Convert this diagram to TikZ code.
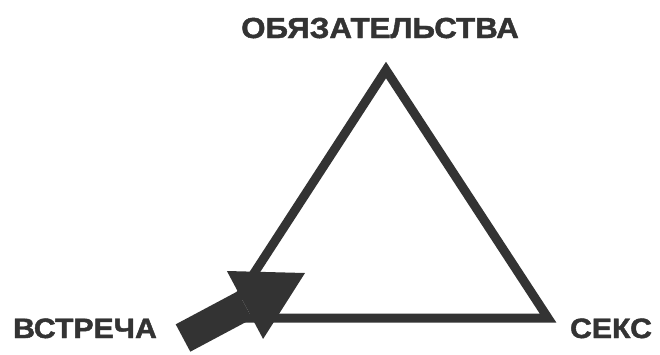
\documentclass[tikz,border=0pt]{standalone}
\usepackage{fontspec}
\setmainfont{Liberation Sans}[FakeStretch=1.08, BoldFeatures={FakeBold=1.6}]
\usetikzlibrary{arrows.meta}
\definecolor{ink}{gray}{0.2}
\tikzset{
	word/.style={font=\bfseries\fontsize{#1}{#1}\selectfont, text=ink, anchor=base, inner sep=0pt},
	word/.default=28bp,
	edge/.style={draw=ink, line width=9bp, line join=miter},
	% the big arrow into the left corner
	push/.style={draw=ink, line width=31bp, line cap=butt, -{Triangle[length=68bp, width=77bp, line width=0pt]}},
}

\begin{document}
\begin{tikzpicture}[x=1bp, y=-1bp]
	\useasboundingbox (0,0) rectangle (660,354);
	
	\coordinate (cTop) at (386,70);
	\coordinate (cLeft) at (225,318);
	\coordinate (cRight) at (548,318);
	
	\node (commit) [word=29bp] at (380,38) {ОБЯЗАТЕЛЬСТВА};
	\node (meet) [word] at (85,338) {ВСТРЕЧА};
	\node (sex) [word] at (611,338) {СЕКС};
	
	\coordinate (tail) at (183,338);
	\coordinate (tip) at (305,273);
	
	\draw [edge] (cTop) -- (cRight) -- (cLeft) -- cycle;
	\draw [push] (tail) -- (tip);
\end{tikzpicture}
\end{document}
